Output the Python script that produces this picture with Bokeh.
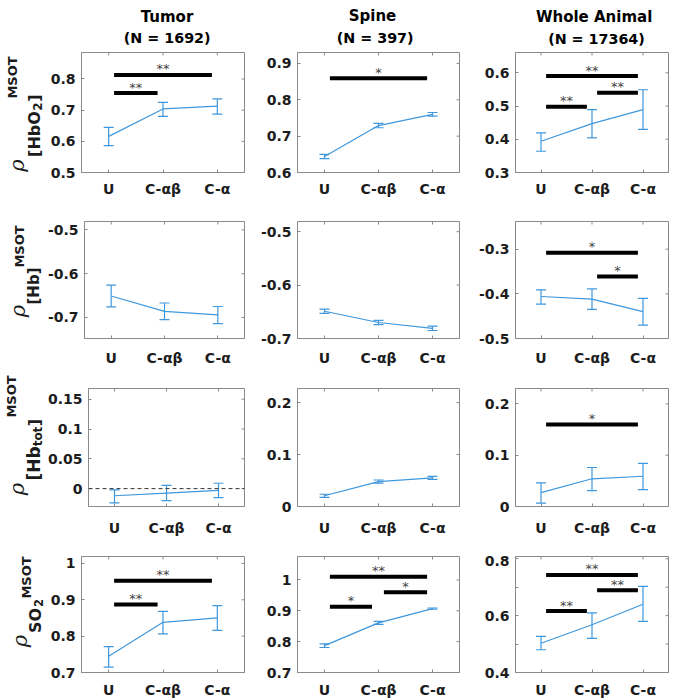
from bokeh.plotting import figure
from bokeh.models import Range1d, FixedTicker, Span
from bokeh.layouts import column, row
from bokeh.embed import file_html
from bokeh.resources import INLINE
from bokeh.core.properties import value
import math

# ---------------- data ----------------
groups = ["U", "C-αβ", "C-α"]
xpos = [1, 2, 3]

col_titles = ["Tumor", "Spine", "Whole Animal"]
col_counts = ["(N = 1692)", "(N = 397)", "(N = 17364)"]

# Tumor
tumor_hbo2_mean = [0.616, 0.704, 0.713]
tumor_hbo2_lo = [0.586, 0.680, 0.687]
tumor_hbo2_hi = [0.645, 0.725, 0.736]
tumor_hb_mean = [-0.651, -0.686, -0.694]
tumor_hb_lo = [-0.676, -0.705, -0.714]
tumor_hb_hi = [-0.626, -0.667, -0.675]
tumor_hbtot_mean = [-0.012, -0.0074, -0.003]
tumor_hbtot_lo = [-0.024, -0.020, -0.015]
tumor_hbtot_hi = [-0.002, 0.0055, 0.009]
tumor_so2_mean = [0.745, 0.838, 0.850]
tumor_so2_lo = [0.715, 0.806, 0.816]
tumor_so2_hi = [0.771, 0.868, 0.884]

# Spine
spine_hbo2_mean = [0.644, 0.729, 0.760]
spine_hbo2_lo = [0.638, 0.723, 0.755]
spine_hbo2_hi = [0.650, 0.735, 0.765]
spine_hb_mean = [-0.649, -0.670, -0.681]
spine_hb_lo = [-0.653, -0.674, -0.685]
spine_hb_hi = [-0.645, -0.666, -0.677]
spine_hbtot_mean = [0.0206, 0.048, 0.055]
spine_hbtot_lo = [0.0176, 0.045, 0.052]
spine_hbtot_hi = [0.0236, 0.051, 0.058]
spine_so2_mean = [0.787, 0.861, 0.907]
spine_so2_lo = [0.781, 0.856, 0.905]
spine_so2_hi = [0.793, 0.866, 0.909]

# Whole animal
whole_hbo2_mean = [0.394, 0.447, 0.489]
whole_hbo2_lo = [0.364, 0.404, 0.430]
whole_hbo2_hi = [0.419, 0.489, 0.549]
whole_hb_mean = [-0.406, -0.412, -0.440]
whole_hb_lo = [-0.423, -0.435, -0.470]
whole_hb_hi = [-0.391, -0.389, -0.410]
whole_hbtot_mean = [0.027, 0.054, 0.059]
whole_hbtot_lo = [0.0064, 0.031, 0.033]
whole_hbtot_hi = [0.046, 0.076, 0.084]
whole_so2_mean = [0.503, 0.568, 0.640]
whole_so2_lo = [0.480, 0.520, 0.580]
whole_so2_hi = [0.527, 0.610, 0.703]

# significance bars: (x start, x end, y level, stars)
tumor_hbo2_sig = [(1.1, 2.9, 0.813, "**"), (1.1, 1.9, 0.755, "**")]
tumor_hb_sig = []
tumor_hbtot_sig = []
tumor_so2_sig = [(1.1, 2.9, 0.952, "**"), (1.1, 1.9, 0.887, "**")]
spine_hbo2_sig = [(1.1, 2.9, 0.859, "*")]
spine_hb_sig = []
spine_hbtot_sig = []
spine_so2_sig = [(1.1, 2.9, 1.010, "**"), (1.1, 1.88, 0.913, "*"), (2.1, 2.9, 0.960, "*")]
whole_hbo2_sig = [(1.1, 2.9, 0.590, "**"), (1.1, 1.9, 0.498, "**"), (2.1, 2.9, 0.540, "**")]
whole_hb_sig = [(1.1, 2.9, -0.308, "*"), (2.1, 2.9, -0.361, "*")]
whole_hbtot_sig = [(1.1, 2.9, 0.160, "*")]
whole_so2_sig = [(1.1, 2.9, 0.743, "**"), (1.1, 1.9, 0.616, "**"), (2.1, 2.9, 0.689, "**")]

# y axis ranges and ticks
tumor_ranges = [(0.5, 0.885), (-0.748, -0.481), (-0.03, 0.168), (0.7, 1.019)]
spine_ranges = [(0.6, 0.93), (-0.7, -0.481), (0.0, 0.227), (0.7, 1.076)]
whole_ranges = [(0.3, 0.661), (-0.5, -0.238), (0.0, 0.23), (0.4, 0.808)]
tumor_ticks = [[0.5, 0.6, 0.7, 0.8], [-0.7, -0.6, -0.5], [0, 0.05, 0.1, 0.15], [0.7, 0.8, 0.9, 1]]
spine_ticks = [[0.6, 0.7, 0.8, 0.9], [-0.7, -0.6, -0.5], [0, 0.1, 0.2], [0.7, 0.8, 0.9, 1]]
whole_ticks = [[0.3, 0.4, 0.5, 0.6], [-0.5, -0.4, -0.3], [0, 0.1, 0.2], [0.4, 0.5, 0.6, 0.7, 0.8]]
whole_so2_labelled = [0.4, 0.6, 0.8]

# ---------------- styling / layout ----------------
BLUE = "#3f97dc"
BOX = "#8a8a8a"
TXT = "#1c1c1c"
BOLD = "DejaVu Sans"
SERIF = "DejaVu Serif"

TOTAL_W = 678
TITLE_H = 49
LABEL_W = 44
col_borders = [(37, 163, 8), (45, 162, 11), (45, 153, 10)]   # left, frame, right
row_borders = [(3, 120, 45), (4, 117, 46), (4, 118, 46), (4, 117, 27)]  # top, frame, bottom
xlabel_standoff = [8, 11, 13, 9]

panels = [
    [(tumor_hbo2_mean, tumor_hbo2_lo, tumor_hbo2_hi, tumor_hbo2_sig),
     (spine_hbo2_mean, spine_hbo2_lo, spine_hbo2_hi, spine_hbo2_sig),
     (whole_hbo2_mean, whole_hbo2_lo, whole_hbo2_hi, whole_hbo2_sig)],
    [(tumor_hb_mean, tumor_hb_lo, tumor_hb_hi, tumor_hb_sig),
     (spine_hb_mean, spine_hb_lo, spine_hb_hi, spine_hb_sig),
     (whole_hb_mean, whole_hb_lo, whole_hb_hi, whole_hb_sig)],
    [(tumor_hbtot_mean, tumor_hbtot_lo, tumor_hbtot_hi, tumor_hbtot_sig),
     (spine_hbtot_mean, spine_hbtot_lo, spine_hbtot_hi, spine_hbtot_sig),
     (whole_hbtot_mean, whole_hbtot_lo, whole_hbtot_hi, whole_hbtot_sig)],
    [(tumor_so2_mean, tumor_so2_lo, tumor_so2_hi, tumor_so2_sig),
     (spine_so2_mean, spine_so2_lo, spine_so2_hi, spine_so2_sig),
     (whole_so2_mean, whole_so2_lo, whole_so2_hi, whole_so2_sig)],
]
ranges = [tumor_ranges, spine_ranges, whole_ranges]
ticks = [tumor_ticks, spine_ticks, whole_ticks]

# column titles: (x centre, baseline y) in page pixels for each line
title_pos = [((166.5, 16), (166.7, 37)), ((372, 15), (374.7, 37)), ((593.6, 16), (596, 38))]

# rotated y-label pieces, centre-anchored:
# (text, centre x, centre y, size px, font, style) in page pixels
ylabel_pieces = [
    ("ρ", 16, 165, 21, SERIF, "italic"),
    ("[HbO", 33.5, 133.5, 16, BOLD, "bold"),
    ("2", 37, 106, 12, BOLD, "bold"),
    ("]", 33.5, 97.5, 16, BOLD, "bold"),
    ("MSOT", 11.5, 77, 13, BOLD, "bold"),
    ("ρ", 17, 310.5, 21, SERIF, "italic"),
    ("[Hb]", 33.5, 285.5, 15, BOLD, "bold"),
    ("MSOT", 19, 246, 13, BOLD, "bold"),
    ("ρ", 16, 488.5, 21, SERIF, "italic"),
    ("[Hb", 33.5, 463, 17, BOLD, "bold"),
    ("tot", 37.5, 436, 12, BOLD, "bold"),
    ("]", 33.5, 422, 16, BOLD, "bold"),
    ("MSOT", 10.5, 396, 13, BOLD, "bold"),
    ("ρ", 19, 640.5, 21, SERIF, "italic"),
    ("SO", 35, 620, 16, BOLD, "bold"),
    ("2", 38, 602.5, 11.5, BOLD, "bold"),
    ("MSOT", 26, 577, 13, BOLD, "bold"),
]


def fmt(v):
    return "%g" % v


def blank_fig(w, h, x0, x1, y0, y1):
    f = figure(width=w, height=h, x_range=Range1d(x0, x1), y_range=Range1d(y0, y1),
               output_backend="svg", toolbar_location=None, tools="",
               x_axis_type=None, y_axis_type=None,
               min_border_left=0, min_border_right=0, min_border_top=0, min_border_bottom=0)
    f.grid.visible = False
    f.outline_line_color = None
    f.background_fill_color = "white"
    f.border_fill_color = "white"
    return f


# title strip (x = page pixels, y = minus page pixels)
title_fig = blank_fig(TOTAL_W, TITLE_H, 0, TOTAL_W, -TITLE_H, 0)
for c in range(3):
    (x1_, b1), (x2_, b2) = title_pos[c]
    title_fig.text(x=[x1_], y=[-b1], text=[col_titles[c]],
                   text_align="center", text_baseline="alphabetic",
                   text_font=value(BOLD), text_font_style="bold",
                   text_font_size="15px", text_color="black")
    title_fig.text(x=[x2_], y=[-b2], text=[col_counts[c]],
                   text_align="center", text_baseline="alphabetic",
                   text_font=value(BOLD), text_font_style="bold",
                   text_font_size="14.3px", text_color="black")

rows_h = sum(bt + fh + bb for bt, fh, bb in row_borders)
# y label strip spanning all panel rows (x = page pixels, y = minus page pixels)
lab = blank_fig(LABEL_W, rows_h, 0, LABEL_W, -(TITLE_H + rows_h), -TITLE_H)
for (txt, cx, cy, size, font, style) in ylabel_pieces:
    lab.text(x=[cx], y=[-cy], text=[txt], angle=math.pi / 2,
             text_align="center", text_baseline="middle",
             text_font=value(font), text_font_style=style,
             text_font_size="%gpx" % size, text_color=TXT)

rows_out = []
for r in range(4):
    bt, fh, bb = row_borders[r]
    rh = bt + fh + bb
    figs = []
    for c in range(3):
        bl, fw, br = col_borders[c]
        y0, y1 = ranges[c][r]
        p = figure(width=bl + fw + br, height=rh,
                   x_range=Range1d(0.5, 3.5), y_range=Range1d(y0, y1),
                   output_backend="svg", toolbar_location=None, tools="",
                   min_border_left=bl, min_border_right=br,
                   min_border_top=bt, min_border_bottom=bb)
        p.grid.visible = False
        p.background_fill_color = "white"
        p.border_fill_color = "white"
        p.outline_line_color = BOX
        p.outline_line_width = 1

        tk = ticks[c][r]
        p.yaxis.ticker = FixedTicker(ticks=tk)
        overrides = {}
        for t in tk:
            if c == 2 and r == 3 and t not in whole_so2_labelled:
                overrides[t] = " "
            else:
                overrides[t] = fmt(t)
        p.yaxis.major_label_overrides = overrides
        p.xaxis.ticker = FixedTicker(ticks=xpos)
        p.xaxis.major_label_overrides = {xpos[i]: groups[i] for i in range(3)}
        for ax in (p.xaxis[0], p.yaxis[0]):
            ax.axis_label = None
            ax.axis_line_color = BOX
            ax.major_tick_line_color = BOX
            ax.major_tick_in = 3
            ax.major_tick_out = 0
            ax.minor_tick_line_color = None
            ax.major_label_text_font = BOLD
            ax.major_label_text_font_style = "bold"
            ax.major_label_text_font_size = "14px"
            ax.major_label_text_color = TXT
        p.yaxis.major_label_standoff = 6
        p.xaxis.major_label_standoff = xlabel_standoff[r]

        # mirrored ticks on top and right edges (MATLAB box style)
        p.scatter(x=xpos, y=[y1] * len(xpos), marker="dash", angle=math.pi / 2, size=6,
                  line_color=BOX, line_width=1)
        p.scatter(x=[3.5] * len(tk), y=tk, marker="dash", size=6, line_color=BOX, line_width=1)

        mean, lo, hi, sig = panels[r][c]

        if c == 0 and r == 2:
            p.add_layout(Span(location=0, dimension="width", line_color="#333333",
                              line_width=1, line_dash="4 3"))

        # line of means and error bars
        p.line(xpos, mean, line_color=BLUE, line_width=1.2)
        p.segment(x0=xpos, y0=lo, x1=xpos, y1=hi, line_color=BLUE, line_width=1.2)
        p.scatter(xpos, lo, marker="dash", size=10, line_color=BLUE, line_width=1.2)
        p.scatter(xpos, hi, marker="dash", size=10, line_color=BLUE, line_width=1.2)

        # significance bars with stars
        if sig:
            sx0 = [s[0] for s in sig]
            sx1 = [s[1] for s in sig]
            sy = [s[2] for s in sig]
            st = [s[3] for s in sig]
            p.segment(x0=sx0, y0=sy, x1=sx1, y1=sy, line_color="black", line_width=4,
                      line_cap="butt")
            p.text(x=[(a + b) / 2 for a, b in zip(sx0, sx1)], y=sy, text=st,
                   text_align="center", text_baseline="middle", y_offset=-6,
                   text_font=value("DejaVu Sans"), text_font_size="13px",
                   text_color="#444444")
        figs.append(p)
    rows_out.append(row(*figs))

layout = column(title_fig, row(lab, column(*rows_out)))
open("out.html", "w").write(file_html(layout, INLINE))
